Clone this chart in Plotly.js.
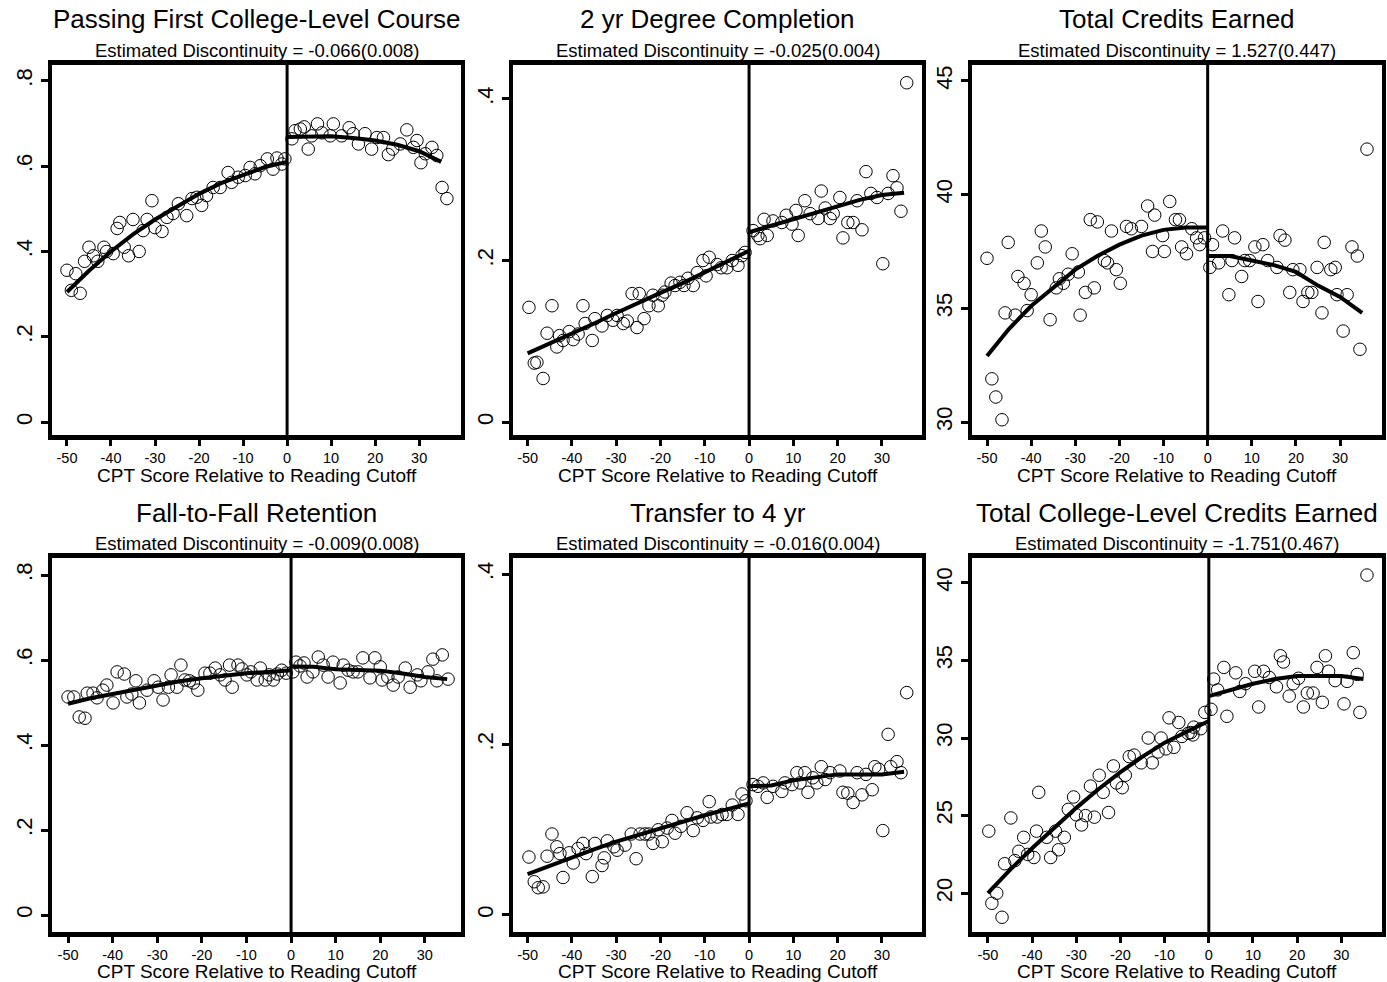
<!DOCTYPE html>
<html><head><meta charset="utf-8">
<script src="https://cdn.plot.ly/plotly-3.0.1.min.js"></script>
<style>body{margin:0;padding:0;background:#fff}#chart{width:1387px;height:982px}</style>
</head><body><div id="chart"></div>
<script>
// ---------- text ----------
const titles = ["Passing First College-Level Course","2 yr Degree Completion","Total Credits Earned",
  "Fall-to-Fall Retention","Transfer to 4 yr","Total College-Level Credits Earned"];
const subtitles = ["Estimated Discontinuity = -0.066(0.008)","Estimated Discontinuity = -0.025(0.004)",
  "Estimated Discontinuity = 1.527(0.447)","Estimated Discontinuity = -0.009(0.008)",
  "Estimated Discontinuity = -0.016(0.004)","Estimated Discontinuity = -1.751(0.467)"];
const xAxisTitle = "CPT Score Relative to Reading Cutoff";
const xTickVals = [-50,-40,-30,-20,-10,0,10,20,30];
const xTickText = ["-50","-40","-30","-20","-10","0","10","20","30"];
const yTickValsShare8 = [0,0.2,0.4,0.6,0.8];
const yTickTextShare8 = ["0",".2",".4",".6",".8"];
const yTickValsShare4 = [0,0.2,0.4];
const yTickTextShare4 = ["0",".2",".4"];
const yTickValsCredits = [30,35,40,45];
const yTickValsCollege = [20,25,30,35,40];

// ---------- fitted-line x positions ----------
const fitXLeft = [-50,-45,-40,-35,-30,-25,-20,-15,-10,-5,0];
const fitXRight = [0,5,10,15,20,25,30,35];

// ---------- Panel 1: Passing First College-Level Course ----------
const p1Points = [[-50,0.356],[-49,0.309],[-48,0.348],[-47,0.302],[-46,0.377],[-45,0.41],[-44,0.39],[-43,0.377],
 [-41.6,0.41],[-41,0.40],[-39.5,0.395],[-38.6,0.454],[-38,0.468],[-37,0.41],[-36,0.39],[-35,0.475],[-33.6,0.40],
 [-32.7,0.449],[-31.8,0.475],[-30.7,0.519],[-30,0.456],[-28.4,0.447],[-27.3,0.48],[-25.9,0.489],[-24.7,0.512],
 [-22.8,0.484],[-21.6,0.524],[-20.5,0.527],[-19.4,0.508],[-18.3,0.531],[-16.8,0.55],[-15.2,0.55],[-13.4,0.585],
 [-12.6,0.562],[-11.1,0.574],[-9.5,0.578],[-8.4,0.597],[-7.3,0.582],[-6.1,0.601],[-4.5,0.617],[-3.2,0.593],
 [-2.3,0.619],[-1.2,0.605],[-0.5,0.617],
 [1.1,0.664],[1.8,0.683],[3,0.687],[3.9,0.692],[4.8,0.64],[5.6,0.671],[6.9,0.699],[7.9,0.678],[9.8,0.671],
 [10.5,0.699],[12.4,0.671],[14.1,0.69],[15,0.676],[16.2,0.652],[17.7,0.676],[19.2,0.64],[20.4,0.667],[21.9,0.667],
 [23,0.627],[24,0.64],[25.7,0.652],[27.2,0.685],[28.7,0.644],[29.5,0.66],[30.4,0.608],[31.4,0.629],[32.9,0.644],
 [34,0.625],[35.2,0.55],[36.3,0.524]];
const p1FitLeft = [0.305,0.355,0.40,0.44,0.475,0.505,0.535,0.56,0.58,0.598,0.61];
const p1FitRight = [0.668,0.67,0.67,0.666,0.66,0.65,0.635,0.61];

// ---------- Panel 2: 2 yr Degree Completion ----------
const p2Points = [[-49.7,0.142],[-48.5,0.073],[-47.9,0.074],[-46.5,0.054],[-45.6,0.11],[-44.5,0.144],[-43.4,0.093],
 [-42.8,0.107],[-42,0.101],[-40.6,0.112],[-39.7,0.102],[-38.6,0.109],[-37.5,0.144],[-37,0.122],[-35.4,0.101],
 [-34.8,0.128],[-33.2,0.119],[-32,0.132],[-30.7,0.126],[-29.8,0.132],[-28.4,0.122],[-27.5,0.125],[-26.4,0.159],
 [-25.3,0.117],[-24.8,0.159],[-23.7,0.128],[-22.6,0.144],[-21.7,0.157],[-20.5,0.144],[-19.6,0.157],[-19,0.161],
 [-17.6,0.172],[-16.7,0.169],[-15.6,0.173],[-14.7,0.169],[-13.8,0.178],[-12.6,0.169],[-11.7,0.185],[-10.4,0.2],
 [-9.7,0.181],[-9,0.204],[-7.2,0.195],[-6.3,0.191],[-5,0.191],[-3.8,0.2],[-2.5,0.194],[-1.6,0.206],[-0.9,0.21],
 [0.9,0.237],[2,0.231],[2.5,0.227],[3.4,0.251],[4.1,0.231],[5.4,0.249],[7.4,0.247],[8.4,0.256],[9.7,0.245],
 [10.6,0.262],[11.1,0.231],[12.6,0.274],[13.8,0.258],[15.6,0.252],[16.3,0.286],[17.2,0.265],[18.3,0.252],[19,0.258],
 [20.5,0.278],[21.2,0.228],[22.3,0.247],[23.5,0.247],[24.4,0.274],[25.5,0.238],[26.4,0.31],[27.5,0.283],[28.9,0.278],
 [30.2,0.196],[31.4,0.283],[32.5,0.305],[33.4,0.29],[34.3,0.261],[35.6,0.42]];
const p2FitLeft = [0.085,0.097,0.11,0.122,0.135,0.148,0.16,0.172,0.185,0.198,0.212];
const p2FitRight = [0.235,0.243,0.252,0.26,0.268,0.275,0.281,0.284];

// ---------- Panel 3: Total Credits Earned ----------
const p3Points = [[-50,37.2],[-48.9,31.9],[-48,31.1],[-46.6,30.1],[-45.9,34.8],[-45.2,37.9],[-43.6,34.7],[-43,36.4],
 [-41.6,36.1],[-40.9,34.9],[-40,35.6],[-38.6,37.0],[-37.7,38.4],[-36.8,37.7],[-35.7,34.5],[-34.3,35.9],[-33.6,36.3],
 [-32.7,36.1],[-31.6,36.5],[-30.7,37.4],[-29.3,36.6],[-28.9,34.7],[-27.7,35.7],[-26.6,38.9],[-25.7,35.9],[-25,38.8],
 [-23.4,37.1],[-22.7,37.0],[-21.8,38.4],[-20.7,36.7],[-19.8,36.1],[-18.4,38.6],[-17.3,38.5],[-15,38.6],[-13.6,39.5],
 [-12.5,37.5],[-12,39.1],[-10.2,38.2],[-9.8,37.5],[-8.6,39.7],[-7.3,38.9],[-6.4,38.9],[-5.9,37.7],[-4.8,37.4],
 [-3.6,38.5],[-2.5,38.1],[-1.8,37.8],[-0.7,38.1],
 [0.5,36.8],[1.1,37.8],[2.5,37.0],[3.4,38.4],[4.8,35.6],[5.5,37.1],[6.1,38.1],[7.7,36.4],[8.4,37.1],[9.5,37.1],
 [10.7,37.7],[11.4,35.3],[12.5,37.8],[13.6,37.1],[15.7,36.8],[16.4,38.2],[17.5,38.0],[18.6,35.7],[19.3,36.7],
 [20.9,36.7],[21.6,35.3],[22.7,35.7],[23.6,35.7],[24.8,36.8],[25.9,34.8],[26.4,37.9],[27.9,36.7],[28.9,36.8],
 [29.3,35.6],[30.7,34.0],[31.6,35.6],[32.7,37.7],[33.9,37.3],[34.5,33.2],[36.1,42.0]];
const p3FitLeft = [32.9,34.1,35.1,35.9,36.7,37.3,37.8,38.2,38.45,38.55,38.55];
const p3FitRight = [37.3,37.3,37.1,36.9,36.6,36.0,35.5,34.8];

// ---------- Panel 4: Fall-to-Fall Retention ----------
const p4Points = [[-50,0.513],[-48.7,0.513],[-47.5,0.466],[-46.2,0.463],[-45.7,0.522],[-44.4,0.522],[-43.5,0.511],
 [-42.2,0.529],[-41.3,0.541],[-39.9,0.499],[-39,0.572],[-37.4,0.567],[-36.8,0.513],[-35.7,0.52],[-34.8,0.551],
 [-34,0.499],[-32.3,0.529],[-30.7,0.551],[-29.8,0.536],[-28.7,0.506],[-27.5,0.536],[-26.9,0.565],[-25.6,0.536],
 [-24.7,0.588],[-23.8,0.553],[-22.8,0.551],[-21.9,0.546],[-20.9,0.529],[-19.3,0.569],[-18.2,0.569],[-17,0.581],
 [-15.9,0.565],[-14.8,0.553],[-13.8,0.588],[-13.2,0.536],[-11.9,0.588],[-11,0.579],[-9.9,0.565],[-9,0.572],
 [-7.6,0.553],[-6.9,0.581],[-5.8,0.553],[-4.9,0.565],[-4,0.553],[-3.1,0.567],[-2.1,0.576],[-1.1,0.569],
 [0.4,0.572],[1.1,0.595],[2,0.586],[2.9,0.593],[3.6,0.56],[4.9,0.572],[6.1,0.607],[7.2,0.588],[8.3,0.56],
 [9.4,0.595],[11,0.546],[11.7,0.588],[12.8,0.576],[13.9,0.572],[15,0.572],[16.1,0.605],[17.7,0.558],[18.8,0.605],
 [20,0.584],[20.4,0.553],[21.7,0.56],[22.9,0.541],[24,0.56],[25.6,0.581],[26.7,0.536],[28.3,0.565],[29.1,0.551],
 [30.7,0.572],[31.8,0.602],[32.7,0.551],[33.9,0.612],[35.2,0.555]];
const p4FitLeft = [0.497,0.51,0.52,0.53,0.54,0.55,0.557,0.563,0.569,0.572,0.576];
const p4FitRight = [0.585,0.584,0.578,0.577,0.575,0.568,0.56,0.555];

// ---------- Panel 5: Transfer to 4 yr ----------
const p5Points = [[-49.7,0.068],[-48.5,0.039],[-47.6,0.032],[-46.5,0.033],[-45.6,0.069],[-44.5,0.095],[-43.4,0.08],
 [-42.7,0.072],[-42,0.044],[-40.6,0.073],[-39.7,0.061],[-38.6,0.078],[-37.5,0.084],[-36.8,0.072],[-35.4,0.045],
 [-34.8,0.084],[-33.2,0.058],[-32.7,0.067],[-32,0.087],[-30.5,0.08],[-29.8,0.076],[-28,0.082],[-26.6,0.095],
 [-25.5,0.066],[-24.6,0.095],[-23.5,0.095],[-22.6,0.095],[-21.7,0.084],[-20.5,0.1],[-19.6,0.086],[-18.5,0.102],
 [-17.4,0.111],[-16.7,0.096],[-15.4,0.104],[-14,0.12],[-12.6,0.099],[-11.7,0.114],[-10.4,0.111],[-9,0.133],
 [-8.6,0.115],[-7.2,0.115],[-6.1,0.118],[-5,0.118],[-3.8,0.129],[-2.5,0.118],[-1.6,0.142],[-0.7,0.134],
 [0.9,0.153],[2,0.151],[3.2,0.155],[4.1,0.138],[5.4,0.151],[7.4,0.145],[8.1,0.155],[9.7,0.153],[10.8,0.167],
 [11.5,0.155],[12.6,0.167],[13.3,0.144],[14.4,0.161],[15.3,0.155],[16.3,0.174],[17.2,0.159],[18.3,0.167],
 [20.5,0.169],[21.2,0.144],[22.3,0.143],[23.5,0.132],[24.4,0.167],[25.5,0.141],[26.4,0.165],[27.8,0.147],
 [28.4,0.174],[29.3,0.171],[30.2,0.099],[31.4,0.212],[32,0.174],[33.4,0.18],[34.3,0.167],[35.6,0.261]];
const p5FitLeft = [0.048,0.058,0.068,0.077,0.086,0.094,0.102,0.11,0.117,0.124,0.131];
const p5FitRight = [0.151,0.152,0.158,0.162,0.165,0.165,0.165,0.168];

// ---------- Panel 6: Total College-Level Credits Earned ----------
const p6Points = [[-49.8,24.0],[-49.1,19.35],[-48,20.0],[-46.8,18.45],[-46.2,21.9],[-44.8,24.85],[-43.9,22.1],
 [-43,22.7],[-41.9,23.6],[-41,22.5],[-39.6,22.3],[-39,24.0],[-38.5,26.5],[-36.7,23.6],[-35.8,22.3],[-34.7,24.0],
 [-34,22.8],[-32.7,23.6],[-31.8,25.4],[-30.6,26.2],[-30,25.05],[-28.8,24.4],[-27.9,25.0],[-26.8,26.9],[-25.9,24.9],
 [-24.8,27.6],[-23.9,26.5],[-22.7,25.2],[-21.6,28.2],[-20.9,27.1],[-19.6,26.8],[-18.9,27.6],[-18,28.8],[-16.9,28.9],
 [-15.3,28.4],[-13.7,30.0],[-12.8,28.4],[-11.5,29.1],[-10.8,30.0],[-9.7,29.3],[-9,31.3],[-7.9,29.4],[-6.8,31.0],
 [-6.1,30.1],[-4.7,30.3],[-4.1,30.35],[-3.6,30.2],[-3.4,30.7],[-1.8,30.6],[-0.9,31.65],
 [0.5,31.85],[1.1,33.8],[2,33.1],[3.4,34.55],[4.1,31.4],[6.1,34.2],[7,33.0],[8.3,33.5],[10.4,34.3],[11.3,32.0],
 [12.4,34.3],[13.7,33.9],[15.3,33.3],[16.2,35.3],[16.9,34.9],[18.2,32.7],[19.1,33.5],[20.3,33.85],[21.4,32.0],
 [22.3,32.9],[23.6,32.9],[24.5,34.55],[25.7,32.3],[26.4,35.3],[27.1,34.3],[28.6,33.7],[30.6,32.2],[31.3,33.65],
 [32.7,35.5],[33.6,34.1],[34.2,31.65],[35.8,40.5]];
const p6FitLeft = [20.0,21.5,22.9,24.2,25.5,26.7,27.8,28.8,29.7,30.4,31.1];
const p6FitRight = [32.7,33.1,33.5,33.8,34.0,34.0,34.0,33.8];

// ---------- panel layout settings ----------
const W = 1387, H = 982;
const colPx = [[52,461],[513,922],[972,1382]];
const rowPx = [[65,435],[558,932]];
const panels = [
 {pts:p1Points, fl:p1FitLeft, fr:p1FitRight, xr:[-53.4,39.5], yr:[-0.030,0.837], tv:yTickValsShare8, tt:yTickTextShare8},
 {pts:p2Points, fl:p2FitLeft, fr:p2FitRight, xr:[-53.3,39.05], yr:[-0.016,0.442], tv:yTickValsShare4, tt:yTickTextShare4},
 {pts:p3Points, fl:p3FitLeft, fr:p3FitRight, xr:[-53.4,39.5], yr:[29.43,45.7], tv:yTickValsCredits, tt:yTickValsCredits.map(String)},
 {pts:p4Points, fl:p4FitLeft, fr:p4FitRight, xr:[-53.6,38.1], yr:[-0.04,0.84], tv:yTickValsShare8, tt:yTickTextShare8},
 {pts:p5Points, fl:p5FitLeft, fr:p5FitRight, xr:[-53.3,39.05], yr:[-0.02,0.419], tv:yTickValsShare4, tt:yTickTextShare4},
 {pts:p6Points, fl:p6FitLeft, fr:p6FitRight, xr:[-53.6,39.2], yr:[17.5,41.6], tv:yTickValsCollege, tt:yTickValsCollege.map(String)}
];

const FONT = 'Liberation Sans, Arial, sans-serif';
const traces = [];
const layout = {
  width: W, height: H, margin: {l:0, r:0, t:0, b:0}, showlegend: false,
  paper_bgcolor: 'white', plot_bgcolor: 'white',
  font: {family: FONT, color: 'black'},
  shapes: [], annotations: []
};

panels.forEach((p, i) => {
  const r = Math.floor(i / 3), c = i % 3;
  const n = i + 1;
  const xa = 'x' + (n === 1 ? '' : n), ya = 'y' + (n === 1 ? '' : n);
  const xd = [colPx[c][0] / W, colPx[c][1] / W];
  const yd = [1 - rowPx[r][1] / H, 1 - rowPx[r][0] / H];

  layout['xaxis' + (n === 1 ? '' : n)] = {
    domain: xd, anchor: ya, range: p.xr, showgrid: false, zeroline: false,
    showline: true, linewidth: 5, linecolor: 'black', mirror: true,
    ticks: 'outside', ticklen: 6, tickwidth: 3, tickcolor: 'black',
    tickvals: xTickVals, ticktext: xTickText, tickfont: {size: 14.5, family: FONT}
  };
  layout['yaxis' + (n === 1 ? '' : n)] = {
    domain: yd, anchor: xa, range: p.yr, showgrid: false, zeroline: false,
    showline: true, linewidth: 4, linecolor: 'black', mirror: true,
    ticks: 'outside', ticklen: 7, tickwidth: 3, tickcolor: 'black',
    tickvals: p.tv, ticktext: p.tt, tickangle: -90, tickfont: {size: 22, family: FONT}
  };

  traces.push({
    type: 'scatter', mode: 'markers', xaxis: xa, yaxis: ya,
    x: p.pts.map(d => d[0]), y: p.pts.map(d => d[1]),
    marker: {symbol: 'circle-open', size: 12.5, color: 'black', line: {width: 1, color: 'black'}},
    hoverinfo: 'skip'
  });
  traces.push({type:'scatter', mode:'lines', xaxis:xa, yaxis:ya, x: fitXLeft, y: p.fl,
    line: {color:'black', width: 4}, hoverinfo:'skip'});
  traces.push({type:'scatter', mode:'lines', xaxis:xa, yaxis:ya, x: fitXRight, y: p.fr,
    line: {color:'black', width: 4}, hoverinfo:'skip'});

  layout.shapes.push({type:'line', xref: xa, yref: ya + ' domain', x0: 0, x1: 0, y0: 0, y1: 1,
    line: {color:'black', width: 3}});

  const cx = (xd[0] + xd[1]) / 2;
  const titleY = r === 0 ? 19 : 513;
  const subY = r === 0 ? 51 : 543;
  const axY = r === 0 ? 476 : 971;
  layout.annotations.push({text: titles[i], xref:'paper', yref:'paper', x: cx, y: 1 - titleY / H,
    xanchor:'center', yanchor:'middle', showarrow:false, font:{size: 26, family: FONT, color:'black'}});
  layout.annotations.push({text: subtitles[i], xref:'paper', yref:'paper', x: cx, y: 1 - subY / H,
    xanchor:'center', yanchor:'middle', showarrow:false, font:{size: 18.5, family: FONT, color:'black'}});
  layout.annotations.push({text: xAxisTitle, xref:'paper', yref:'paper', x: cx, y: 1 - axY / H,
    xanchor:'center', yanchor:'middle', showarrow:false, font:{size: 19, family: FONT, color:'black'}});
});

Plotly.newPlot('chart', traces, layout, {staticPlot: true, displayModeBar: false});
</script>
</body></html>
